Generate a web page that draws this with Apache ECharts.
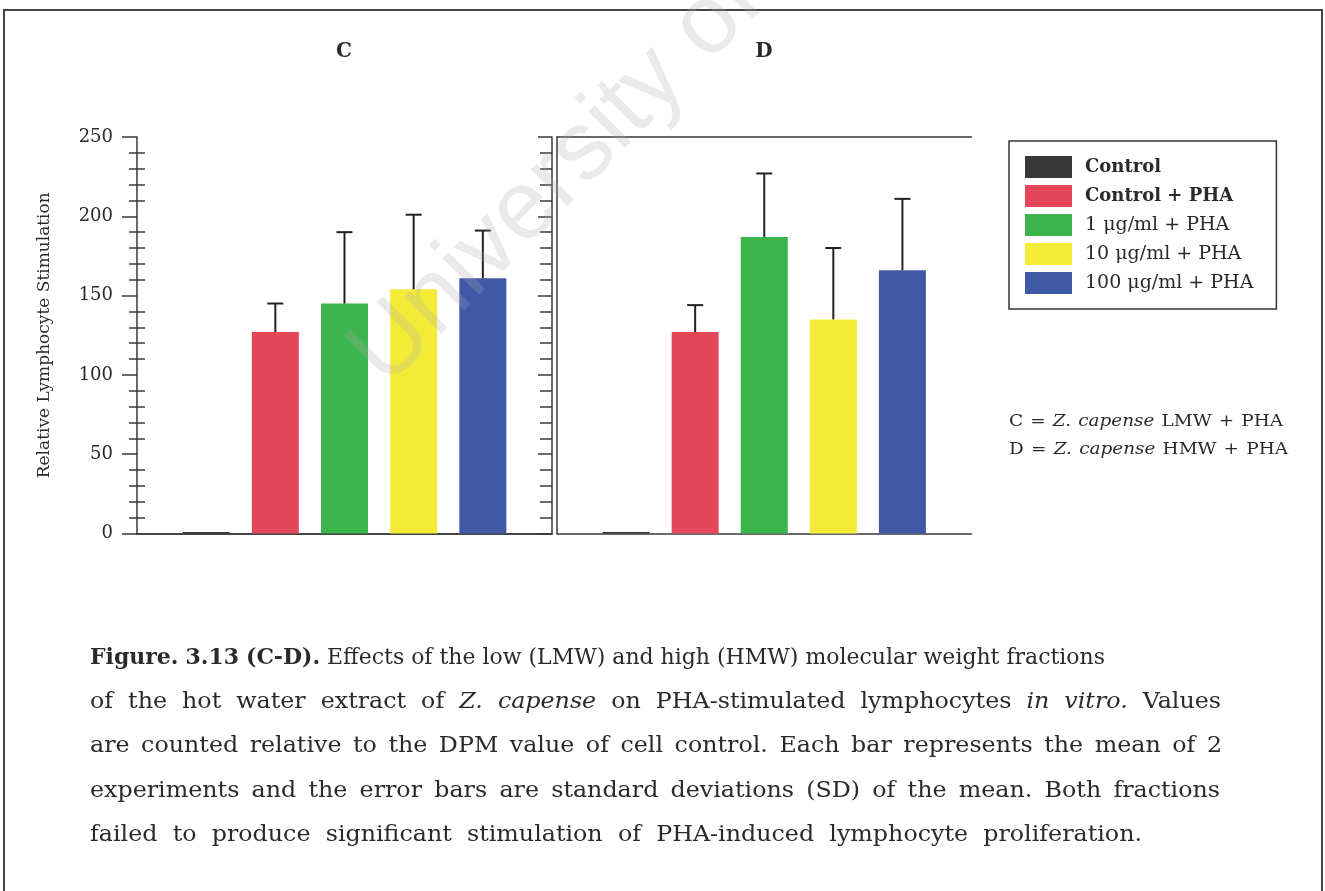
<!DOCTYPE html>
<html>
<head>
<meta charset="utf-8">
<script src="https://cdn.jsdelivr.net/npm/echarts@6/dist/echarts.min.js"></script>
<style>
  html, body { margin: 0; padding: 0; background: #fff; }
  #chart { width: 1325px; height: 891px; }
</style>
</head>
<body>
<div id="chart"></div>
<script>
// ---- data ----
const categories = ['Control', 'Control + PHA', '1 μg/ml + PHA', '10 μg/ml + PHA', '100 μg/ml + PHA'];
const meanC = [1, 127, 145, 154, 161];
const sdC   = [0, 18, 45, 47, 30];
const meanD = [1, 127, 187, 135, 166];
const sdD   = [0, 17, 40, 45, 45];
const yTicks = [0, 50, 100, 150, 200, 250];
const panelTitles = ['C', 'D'];
const yAxisTitle = 'Relative Lymphocyte Stimulation';
const keyLines = [
  [['n', 'C ='], ['i', 'Z. capense'], ['n', 'LMW + PHA']],
  [['n', 'D ='], ['i', 'Z. capense'], ['n', 'HMW + PHA']]
];
const captionLines = [
  [['b', 'Figure. 3.13 (C-D).'], ['n', 'Effects of the low (LMW) and high (HMW) molecular weight fractions']],
  [['n', 'of the hot water extract of'], ['i', 'Z. capense'], ['n', 'on PHA-stimulated lymphocytes'], ['i', 'in vitro.'], ['n', 'Values']],
  [['n', 'are counted relative to the DPM value of cell control. Each bar represents the mean of 2']],
  [['n', 'experiments and the error bars are standard deviations (SD) of the mean. Both fractions']],
  [['n', 'failed to produce significant stimulation of PHA-induced lymphocyte proliferation.']]
];
const watermark = 'University of Cape Town';

// ---- style / layout ----
const colors = ['#383838', '#e4475a', '#3bb54b', '#f3eb38', '#3f59a8'];
const FAM = '"DejaVu Serif", "Liberation Serif", serif';
const LINE = '#3a3a3a';
const TEXT = '#2a2a2a';

const measureCtx = document.createElement('canvas').getContext('2d');
function fontFor(kind, size) {
  return (kind === 'b' ? 'bold ' : kind === 'i' ? 'italic ' : '') + size + 'px ' + FAM;
}
// lay out a line of words, stretched (mildly) and justified to a right edge
function textLine(segments, x, y, right, size, maxScale) {
  const words = [];
  segments.forEach(([kind, txt]) => {
    txt.split(' ').filter(w => w.length).forEach(w => {
      const font = fontFor(kind, size);
      measureCtx.font = font;
      words.push({ w: w, font: font, width: measureCtx.measureText(w).width });
    });
  });
  measureCtx.font = fontFor('n', size);
  const space = measureCtx.measureText(' ').width;
  const natural = words.reduce((s, d) => s + d.width, 0) + space * (words.length - 1);
  const target = right - x;
  const s = Math.min(maxScale, target / natural);
  const extra = words.length > 1 ? (target - natural * s) / (words.length - 1) : 0;
  const out = [];
  let cx = x;
  words.forEach(d => {
    out.push({
      type: 'text', x: cx, y: y, scaleX: s, z: 50,
      style: { text: d.w, font: d.font, fill: TEXT, verticalAlign: 'middle' }
    });
    cx += (d.width + space) * s + extra;
  });
  return out;
}

const chart = echarts.init(document.getElementById('chart'));

function barSeries(means, xIdx, yIdx) {
  return categories.map((name, i) => ({
    name: name,
    type: 'bar',
    xAxisIndex: xIdx,
    yAxisIndex: yIdx,
    barWidth: 47,
    barGap: '-100%',
    itemStyle: { color: colors[i] },
    data: [[i + 1, means[i]]],
    z: 2
  }));
}

function errSeries(means, sds, xIdx, yIdx) {
  return {
    type: 'custom',
    xAxisIndex: xIdx,
    yAxisIndex: yIdx,
    z: 3,
    silent: true,
    data: means.map((m, i) => [i + 1, m, m + sds[i]]).filter((d, i) => sds[i] > 0),
    renderItem: function (params, api) {
      const p0 = api.coord([api.value(0), api.value(1)]);
      const p1 = api.coord([api.value(0), api.value(2)]);
      const st = { stroke: '#222', lineWidth: 2 };
      return {
        type: 'group',
        children: [
          { type: 'line', shape: { x1: p0[0], y1: p0[1], x2: p1[0], y2: p1[1] }, style: st },
          { type: 'line', shape: { x1: p1[0] - 8, y1: p1[1], x2: p1[0] + 8, y2: p1[1] }, style: st }
        ]
      };
    }
  };
}

const yBase = { type: 'value', min: yTicks[0], max: yTicks[yTicks.length - 1], interval: yTicks[1] - yTicks[0], splitLine: { show: false } };
const xBase = { type: 'value', min: 0, max: 6, splitLine: { show: false }, axisTick: { show: false }, axisLabel: { show: false }, axisLine: { show: true, lineStyle: { color: LINE, width: 1.5 } } };

const captionY = [658, 702, 746, 791, 835];
const captionRight = [1105, 1221, 1222, 1220, 1142];
const keyY = [422, 450];
const keyRight = [1283, 1288];

let graphics = [
  { type: 'polyline', shape: { points: [[4, 891], [4, 10], [1322, 10], [1322, 891]] }, style: { stroke: '#444', lineWidth: 2, fill: null } },
  { type: 'text', x: 344, y: 52, style: { text: panelTitles[0], font: 'bold 20px ' + FAM, fill: TEXT, align: 'center', verticalAlign: 'middle' } },
  { type: 'text', x: 764, y: 52, style: { text: panelTitles[1], font: 'bold 20px ' + FAM, fill: TEXT, align: 'center', verticalAlign: 'middle' } },
  { type: 'text', x: 402, y: 404, rotation: 0.79, z: 100, silent: true, style: { text: watermark, font: '98px "Liberation Sans", Arial, sans-serif', fill: 'rgba(170,170,170,0.25)', verticalAlign: 'bottom' } }
];
keyLines.forEach((segs, i) => { graphics = graphics.concat(textLine(segs, 1009, keyY[i], keyRight[i], 16, 1.15)); });
captionLines.forEach((segs, i) => { graphics = graphics.concat(textLine(segs, 90, captionY[i], captionRight[i], 22, 1.08)); });

const option = {
  backgroundColor: '#fff',
  animation: false,
  grid: [
    { left: 137, top: 137, width: 415, height: 396.5 },
    { left: 557, top: 137, width: 414.5, height: 396.5 }
  ],
  xAxis: [
    Object.assign({}, xBase, { gridIndex: 0, position: 'bottom' }),
    Object.assign({}, xBase, { gridIndex: 0, position: 'top' }),
    Object.assign({}, xBase, { gridIndex: 1, position: 'bottom' }),
    Object.assign({}, xBase, { gridIndex: 1, position: 'top' })
  ],
  yAxis: [
    Object.assign({}, yBase, {
      gridIndex: 0, position: 'left',
      name: yAxisTitle, nameLocation: 'middle', nameGap: 84,
      nameTextStyle: { fontFamily: FAM, fontSize: 17, color: TEXT },
      axisLine: { show: true, lineStyle: { color: LINE, width: 1.5 } },
      axisTick: { show: true, inside: false, length: 15, lineStyle: { color: LINE, width: 1.5 } },
      minorTick: { show: true, splitNumber: 5, length: 8, lineStyle: { color: LINE, width: 1.5 } },
      axisLabel: { show: true, margin: 24, fontFamily: FAM, fontSize: 18, color: TEXT }
    }),
    Object.assign({}, yBase, {
      gridIndex: 0, position: 'left',
      axisLine: { show: false },
      axisTick: { show: false, inside: true },
      minorTick: { show: true, splitNumber: 5, length: 8, lineStyle: { color: LINE, width: 1.5 } },
      axisLabel: { show: false }
    }),
    Object.assign({}, yBase, {
      gridIndex: 0, position: 'right',
      axisLine: { show: true, lineStyle: { color: LINE, width: 1.5 } },
      axisTick: { show: true, inside: true, length: 14, lineStyle: { color: LINE, width: 1.5 } },
      minorTick: { show: true, splitNumber: 5, length: 12, lineStyle: { color: LINE, width: 1.5 } },
      axisLabel: { show: false }
    }),
    Object.assign({}, yBase, {
      gridIndex: 1, position: 'right',
      axisLine: { show: true, lineStyle: { color: LINE, width: 1.5 } },
      axisTick: { show: false },
      axisLabel: { show: false }
    })
  ],
  legend: {
    orient: 'vertical',
    left: 1009, top: 141,
    padding: [15, 23, 15, 16],
    borderColor: '#333', borderWidth: 1.5,
    itemWidth: 47, itemHeight: 22, itemGap: 7,
    icon: 'rect',
    selectedMode: false,
    data: categories,
    formatter: function (name) {
      return categories.indexOf(name) < 2 ? '{b|' + name + '}' : '{n|' + name + '}';
    },
    textStyle: {
      fontFamily: FAM, fontSize: 19, color: TEXT, padding: [0, 0, 0, 8],
      rich: {
        b: { fontFamily: FAM, fontSize: 18, fontWeight: 'bold', color: TEXT },
        n: { fontFamily: FAM, fontSize: 19, color: TEXT }
      }
    }
  },
  graphic: graphics,
  series: [].concat(
    barSeries(meanC, 0, 0),
    [errSeries(meanC, sdC, 0, 0)],
    barSeries(meanD, 2, 3),
    [errSeries(meanD, sdD, 2, 3)]
  )
};

chart.setOption(option);
</script>
</body>
</html>
